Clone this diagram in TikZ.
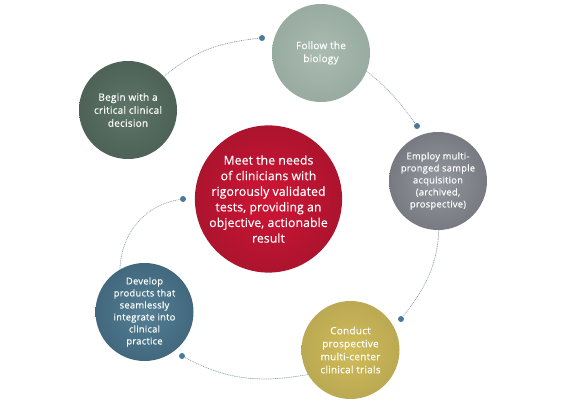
\documentclass[tikz,border=0pt]{standalone}
\usepackage{fontspec}
\setmainfont{Open Sans}
\newfontfamily\smallfont{Open Sans}[LetterSpace=2.5, FakeBold=0.3]
\newfontfamily\bigfont{Open Sans}[LetterSpace=1, FakeBold=0.3]
\definecolor{linec}{HTML}{8EA6B8}
\definecolor{dotc}{HTML}{4A7A9A}
\definecolor{beginIn}{HTML}{5F7569}\definecolor{beginOut}{HTML}{3C4F46}
\definecolor{followIn}{HTML}{AABCB2}\definecolor{followOut}{HTML}{879A90}
\definecolor{employIn}{HTML}{94979E}\definecolor{employOut}{HTML}{5B5D64}
\definecolor{conductIn}{HTML}{D0BC58}\definecolor{conductOut}{HTML}{A6964E}
\definecolor{developIn}{HTML}{557F94}\definecolor{developOut}{HTML}{2E5167}
\definecolor{centralIn}{HTML}{CF1535}\definecolor{centralOut}{HTML}{8A1327}
\pgfdeclareradialshading{beginsh}{\pgfpoint{0bp}{0bp}}{color(0bp)=(beginIn); color(50bp)=(beginOut)}
\pgfdeclareradialshading{followsh}{\pgfpoint{0bp}{0bp}}{color(0bp)=(followIn); color(50bp)=(followOut)}
\pgfdeclareradialshading{employsh}{\pgfpoint{0bp}{0bp}}{color(0bp)=(employIn); color(50bp)=(employOut)}
\pgfdeclareradialshading{conductsh}{\pgfpoint{0bp}{0bp}}{color(0bp)=(conductIn); color(50bp)=(conductOut)}
\pgfdeclareradialshading{developsh}{\pgfpoint{0bp}{0bp}}{color(0bp)=(developIn); color(50bp)=(developOut)}
\pgfdeclareradialshading{centralsh}{\pgfpoint{0bp}{0bp}}{color(0bp)=(centralIn); color(50bp)=(centralOut)}
\tikzset{
  ball/.style={circle, minimum size=98pt, inner sep=0pt, text=white, align=center,
    font=\smallfont\fontsize{10}{13}\selectfont},
  bigball/.style={circle, minimum size=147pt, inner sep=0pt, text=white, align=center,
    font=\bigfont\fontsize{12.2}{15.6}\selectfont, shading=centralsh},
  dotnode/.style={circle, fill=dotc, minimum size=6pt, inner sep=0pt},
  link/.style={draw=linec, line width=0.8pt, dash pattern=on 0.5pt off 1.3pt, line cap=round}
}
\begin{document}
\begin{tikzpicture}[x=1pt,y=1pt]
\useasboundingbox (0,0) rectangle (566,409);
\node[ball, shading=beginsh] (begin) at (128,299) {Begin with a\\critical clinical\\decision};
\node[ball, shading=followsh] (follow) at (321,356) {Follow the\\biology};
\node[ball, shading=employsh, font=\smallfont\fontsize{9.4}{12}\selectfont] (employ) at (438,228) {Employ multi-\\pronged sample\\acquisition\\(archived,\\prospective)};
\node[ball, shading=conductsh] (conduct) at (350.5,59) {Conduct\\prospective\\multi-center\\clinical trials};
\node[ball, shading=developsh, font=\smallfont\fontsize{9.4}{12}\selectfont] (develop) at (144.5,97) {Develop\\products that\\seamlessly\\integrate into\\clinical\\practice};
\node[bigball] (central) at (268.5,210) {Meet the needs\\of clinicians with\\rigorously validated\\tests, providing an\\objective, actionable\\result};
\node[dotnode] (d1) at (262,371) {};
\node[dotnode] (d2) at (417,283) {};
\node[dotnode] (d3) at (401,90) {};
\node[dotnode] (d4) at (182,53) {};
\node[dotnode] (d5) at (183,210) {};
\draw[link] (begin.43) to[out=40, in=186] (d1);
\draw[link] (follow.-22) to[out=-38, in=126] (d2);
\draw[link] (employ.-89) to[out=-93, in=52] (d3);
\draw[link] (conduct.210) to[out=190, in=-28] (d4);
\draw[link] (develop.120) to[out=88, in=189] (d5);
\end{tikzpicture}
\end{document}
